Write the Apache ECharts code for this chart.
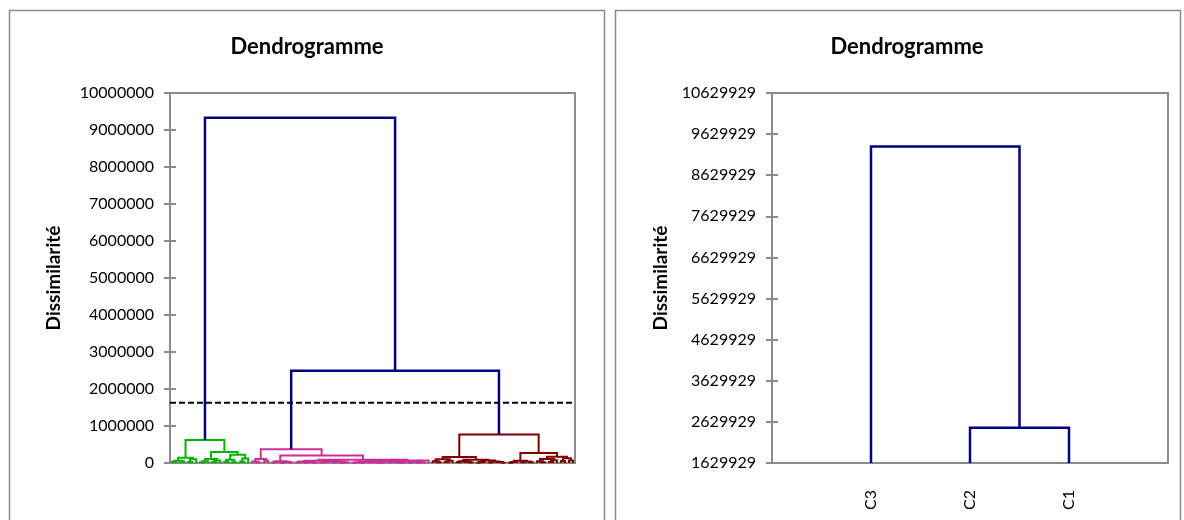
<!DOCTYPE html>
<html><head><meta charset="utf-8">
<script src="https://cdn.jsdelivr.net/npm/echarts@6/dist/echarts.min.js"></script>
<style>html,body{margin:0;padding:0;background:#fff}#c{width:1184px;height:520px}</style>
</head><body><div id="c"></div>
<script>
// ---- DATA ----
// Trees: [mergeHeight, leftChild, rightChild]; 0 = one observation (leaf)
const greenTree = [620000,
  [140000, [60000, [25000, 0, 0], [45000, 0, 0]], [100000, [30000, 0, 0], 0]],
  [300000,
    [110000, [50000, [20000, 0, 0], 0], [70000, [30000, 0, 0], 0]],
    [220000, [90000, [35000, 0, 0], [20000, 0, 0]], [120000, [40000, 0, 0], 0]]]];

const pinkTree = [370000,
  [110000, [40000, 0, [15000, 0, 0]], [60000, 0, 0]],
  [200000,
    [50000, [20000, 0, 0], [35000, [10000, 0, 0], [15000, 0, 0]]],
    [85000,
      [60000,
        [40000, [20000, 0, 0], [30000, [8000, 0, 0], [10000, 0, 0]]],
        [55000, [25000, [12000, 0, 0], 0], [35000, [15000, 0, 0], [18000, [6000, 0, 0], 0]]]],
      [70000,
        [55000,
          [40000, [22000, [9000, 0, 0], [7000, 0, 0]], [30000, [14000, 0, 0], [11000, [5000, 0, 0], 0]]],
          [45000, [28000, [12000, 0, 0], [16000, 0, [6000, 0, 0]]], [33000, [10000, 0, 0], [20000, [8000, 0, 0], 0]]]],
        0]]]];

const redTree = [770000,
  [160000,
    [100000, [45000, 0, [20000, 0, 0]], [60000, [25000, 0, 0], 0]],
    [90000, [50000, [20000, 0, 0], [35000, 0, [12000, 0, 0]]],
            [70000, [30000, [10000, 0, 0], 0], [40000, [15000, 0, 0], [25000, 0, [9000, 0, 0]]]]]],
  [270000,
    [60000, [30000, [10000, 0, 0], 0], [40000, [18000, 0, 0], [22000, 0, 0]]],
    [170000,
      [110000, [50000, 0, [20000, 0, 0]], [75000, [30000, 0, 0], 0]],
      [130000, [55000, 0, 0], [70000, 0, 0]]]]];

const pinkRedHeight = 2490000;   // join of pink and red classes
const topHeight = 9330000;       // final join
const cutLevel = 1629929;        // truncation level (dashed line)
const leftYTicks = [0, 10000000, 1000000];          // min, max, step
const rightYTicks = [1629929, 10629929, 1000000];   // min, max, step
const classLabels = ['C3', 'C2', 'C1'];
const classTree = [topHeight, 'C3', [pinkRedHeight, 'C2', 'C1']];
const titleText = 'Dendrogramme';
const yName = 'Dissimilarité';

// ---- BUILD ----
function build(node, segs, counter, base, leafPos) {
  if (!Array.isArray(node)) {
    const x = leafPos ? leafPos(node) : counter.i++;
    return { x: x, h: base };
  }
  const a = build(node[1], segs, counter, base, leafPos);
  const b = build(node[2], segs, counter, base, leafPos);
  const h = node[0];
  segs.push({ coords: [[a.x, a.h], [a.x, h], [b.x, h], [b.x, b.h]] });
  return { x: (a.x + b.x) / 2, h: h };
}
const counter = { i: 0 };
const gSegs = [], pSegs = [], rSegs = [], bSegs = [];
const gRoot = build(greenTree, gSegs, counter, 0);
const pRoot = build(pinkTree, pSegs, counter, 0);
const rRoot = build(redTree, rSegs, counter, 0);
const N = counter.i;
const mid = { x: (pRoot.x + rRoot.x) / 2, h: pinkRedHeight };
bSegs.push({ coords: [[pRoot.x, pRoot.h], [pRoot.x, mid.h], [rRoot.x, mid.h], [rRoot.x, rRoot.h]] });
bSegs.push({ coords: [[gRoot.x, gRoot.h], [gRoot.x, topHeight], [mid.x, topHeight], [mid.x, mid.h]] });

const off = rightYTicks[0];
const cSegs = [];
function shiftTree(n) { return Array.isArray(n) ? [n[0] - off, shiftTree(n[1]), shiftTree(n[2])] : n; }
build(shiftTree(classTree), cSegs, null, 0, name => classLabels.indexOf(name) + 1);

const FONT = 'Lato';
const BLUE = '#000080', GREEN = '#00b400', PINK = '#cc2e96', RED = '#800000';
const AXC = '#8c8c8c';
const TICK = 6;

function yAxis(gi, mn, mx, step, fmt, gap) {
  return {
    type: 'value', gridIndex: gi, min: mn, max: mx, interval: step, offset: -TICK,
    name: yName, nameLocation: 'middle', nameRotate: 90, nameGap: gap,
    nameTextStyle: { fontFamily: FONT, fontWeight: 'bold', fontSize: 19, color: '#000' },
    axisLine: { show: false, onZero: false },
    axisTick: { show: true, length: 2 * TICK, lineStyle: { color: AXC, width: 2 } },
    axisLabel: { fontFamily: FONT, fontSize: 16, color: '#000', margin: 16 + TICK, formatter: fmt },
    splitLine: { show: false }
  };
}

const chart = echarts.init(document.getElementById('c'), null, { renderer: 'canvas' });
const lineSeries = (segs, color, w, xi, yi, z) => ({
  type: 'lines', coordinateSystem: 'cartesian2d', polyline: true, xAxisIndex: xi, yAxisIndex: yi,
  data: segs, lineStyle: { color: color, width: w, opacity: 1 }, silent: true, z: z, animation: false
});
const titleStyle = { fontFamily: FONT, fontWeight: 'bold', fontSize: 22, fill: '#000', textAlign: 'center', textVerticalAlign: 'middle' };

chart.setOption({
  animation: false,
  graphic: [
    { type: 'rect', shape: { x: 9.5, y: 10.5, width: 595, height: 520 }, style: { fill: 'none', stroke: AXC, lineWidth: 1.5 } },
    { type: 'rect', shape: { x: 615.5, y: 10.5, width: 565, height: 520 }, style: { fill: 'none', stroke: AXC, lineWidth: 1.5 } },
    { type: 'text', x: 307, y: 47, style: Object.assign({ text: titleText }, titleStyle) },
    { type: 'text', x: 907, y: 47, style: Object.assign({ text: titleText }, titleStyle) }
  ],
  grid: [
    { left: 170, top: 93, width: 405, height: 370, show: true, borderColor: AXC, borderWidth: 2, backgroundColor: '#fff' },
    { left: 772, top: 93, width: 396, height: 370, show: true, borderColor: AXC, borderWidth: 2, backgroundColor: '#fff' }
  ],
  xAxis: [
    { type: 'value', gridIndex: 0, min: -0.5, max: N - 0.5, axisLabel: { show: false }, axisTick: { show: false },
      axisLine: { show: true, onZero: false, lineStyle: { color: AXC, width: 2 } }, splitLine: { show: false } },
    { type: 'value', gridIndex: 1, min: 0, max: classLabels.length + 1, interval: 1, axisTick: { show: false },
      axisLine: { show: true, onZero: false, lineStyle: { color: AXC, width: 2 } }, splitLine: { show: false },
      axisLabel: { rotate: 90, margin: 27, fontFamily: FONT, fontSize: 16, color: '#000',
        formatter: v => classLabels[v - 1] || '' } }
  ],
  yAxis: [
    yAxis(0, leftYTicks[0], leftYTicks[1], leftYTicks[2], v => String(v), 113),
    yAxis(1, 0, rightYTicks[1] - off, rightYTicks[2], v => String(v + off), 108)
  ],
  series: [
    lineSeries(gSegs, GREEN, 2, 0, 0, 3),
    lineSeries(pSegs, PINK, 2, 0, 0, 3),
    lineSeries(rSegs, RED, 2, 0, 0, 3),
    lineSeries(bSegs, BLUE, 2.5, 0, 0, 4),
    { type: 'line', xAxisIndex: 0, yAxisIndex: 0, data: [[-0.5, cutLevel], [N - 0.5, cutLevel]],
      symbol: 'none', silent: true, z: 5, lineStyle: { color: '#000', width: 2, type: [6, 3] } },
    lineSeries(cSegs, BLUE, 2.5, 1, 1, 4)
  ]
});
</script>
</body></html>
